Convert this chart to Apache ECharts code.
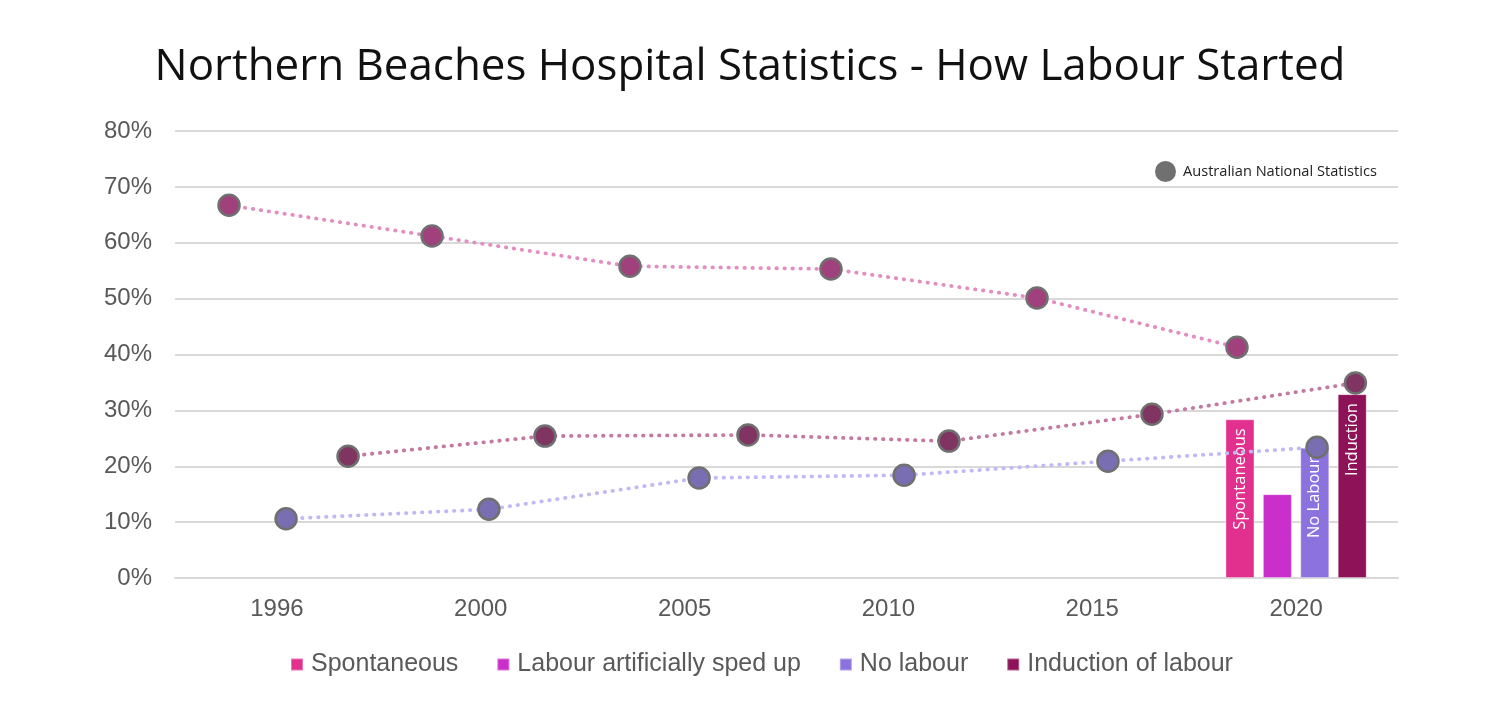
<!DOCTYPE html>
<html>
<head>
<meta charset="utf-8">
<script src="https://cdn.jsdelivr.net/npm/echarts@6/dist/echarts.min.js"></script>
<style>html,body{margin:0;padding:0;background:#fff}#c{width:1500px;height:708px}</style>
</head>
<body>
<div id="c"></div>
<script>
// Categories (x axis)
const years = ['1996', '2000', '2005', '2010', '2015', '2020'];
const yTicks = [0, 10, 20, 30, 40, 50, 60, 70, 80];

// Hospital bars (only 2020 has values), percent
const barNames = ['Spontaneous', 'Labour artificially sped up', 'No labour', 'Induction of labour'];
const barSpontaneous = [null, null, null, null, null, 28.4];
const barSpedUp      = [null, null, null, null, null, 15.0];
const barNoLabour    = [null, null, null, null, null, 23.3];
const barInduction   = [null, null, null, null, null, 32.9];
const barLabels = ['Spontaneous', '', 'No Labour', 'Induction'];

// Australian National Statistics (dots), percent
const natName = 'Australian National Statistics';
const natSpontaneous = [66.7, 61.2, 55.8, 55.3, 50.1, 41.3];
const natInduction   = [21.8, 25.4, 25.6, 24.5, 29.3, 34.9];
const natNoLabour    = [10.6, 12.3, 17.9, 18.4, 20.9, 23.4];
// horizontal position of each dot, in category units (0..6 across the plot)
const posSpontaneous = [0.265, 1.261, 2.232, 3.218, 4.229, 5.210];
const posInduction   = [0.849, 1.815, 2.811, 3.797, 4.793, 5.791];
const posNoLabour    = [0.545, 1.540, 2.571, 3.577, 4.577, 5.603];

const barColors = ['#e2308f', '#ca2ecb', '#8b72df', '#8e1257'];

const chart = echarts.init(document.getElementById('c'), null, {renderer: 'canvas'});

function barSeries(i, data) {
  return {
    name: barNames[i], type: 'bar', data: data,
    xAxisIndex: 0, yAxisIndex: 0,
    barWidth: 29, barGap: '29%',
    itemStyle: {color: barColors[i], borderColor: 'rgba(255,255,255,0.35)', borderWidth: 1},
    label: {
      show: !!barLabels[i], position: 'insideTop', rotate: 90,
      align: 'right', verticalAlign: 'middle', distance: 9,
      color: '#fff', fontFamily: 'Open Sans', fontSize: 16.5,
      formatter: () => barLabels[i]
    },
    z: 2
  };
}
function natSeries(pos, vals, lineColor, dotColor) {
  return {
    name: natName, type: 'line',
    xAxisIndex: 1, yAxisIndex: 0,
    data: vals.map((v, k) => [pos[k], v]),
    symbol: 'circle', symbolSize: 21, showSymbol: true,
    lineStyle: {color: lineColor, width: 3.8, type: [0.5, 7.5], cap: 'round'},
    itemStyle: {color: dotColor, borderColor: '#707070', borderWidth: 2.5},
    emphasis: {disabled: true},
    z: 5
  };
}

chart.setOption({
  animation: false,
  textStyle: {fontFamily: 'Liberation Sans'},
  title: {
    text: 'Northern Beaches Hospital Statistics - How Labour Started',
    left: 'center', top: 40,
    textStyle: {fontFamily: 'Open Sans', fontSize: 43.9, fontWeight: 'normal', color: '#111'}
  },
  grid: {left: 175, right: 102, top: 131, bottom: 130},
  legend: [{
    data: barNames,
    left: 285, top: 647,
    icon: 'rect', itemWidth: 12, itemHeight: 12, itemGap: 38,
    textStyle: {fontFamily: 'Liberation Sans', fontSize: 25, color: '#595959', padding: [0, 0, 0, 3]}
  }, {
    data: [{name: natName, icon: 'circle', itemStyle: {color: '#707070', borderWidth: 0}}],
    left: 1150, top: 156,
    itemWidth: 21, itemHeight: 21,
    textStyle: {fontFamily: 'Open Sans', fontSize: 14.6, color: '#222', padding: [0, 0, 0, 2]}
  }],
  xAxis: [{
    type: 'category', data: years,
    axisLine: {show: true, lineStyle: {color: '#d9d9d9', width: 2}},
    axisTick: {show: false},
    axisLabel: {fontSize: 24, color: '#595959', margin: 19}
  }, {
    type: 'value', min: 0, max: 6, show: false
  }],
  yAxis: [{
    type: 'value', min: yTicks[0], max: yTicks[yTicks.length - 1], interval: 10,
    axisLine: {show: false}, axisTick: {show: false},
    axisLabel: {fontSize: 24, color: '#595959', margin: 23, formatter: '{value}%'},
    splitLine: {lineStyle: {color: '#d9d9d9', width: 2}}
  }],
  series: [
    barSeries(0, barSpontaneous),
    barSeries(1, barSpedUp),
    barSeries(2, barNoLabour),
    barSeries(3, barInduction),
    natSeries(posSpontaneous, natSpontaneous, '#e38ec2', '#a0407c'),
    natSeries(posInduction, natInduction, '#c27aa2', '#7f3462'),
    natSeries(posNoLabour, natNoLabour, '#c3b8f4', '#7a6eb2')
  ]
});
</script>
</body>
</html>
